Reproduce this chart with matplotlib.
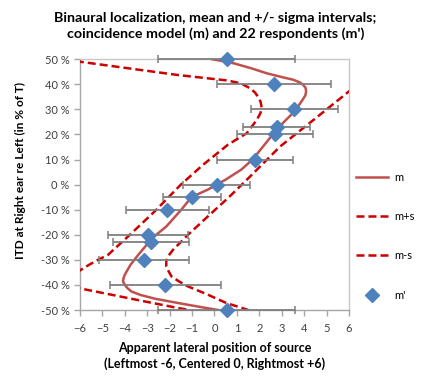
import numpy as np
import matplotlib.pyplot as plt
from matplotlib.ticker import FuncFormatter

# ============================================================
# Data
# ============================================================
# model mean m: lateral position vs ITD (%)
m_pos = [-0.1, 0.4, 0.85, 1.6, 2.33, 2.95, 3.52, 3.8, 3.96, 4.07, 4.09, 4.05,
         3.93, 3.72, 3.5, 3.1, 2.6, 2.15, 1.7, 1.2, 0.5, -0.3, -1.03, -1.48,
         -2.15, -2.6, -2.96, -3.4, -3.75, -4.0, -4.06, -4.08, -4.0, -3.88,
         -3.71, -3.3, -2.65, -1.63, -0.75, 0.16]
m_itd = [50, 49.2, 48.4, 46.5, 44.4, 43, 41.8, 40.8, 39.8, 38.5, 37, 35.5,
         33.8, 31, 28.5, 25, 20, 15, 10, 6, 2, -2, -5, -10,
         -16.7, -20, -23.3, -28, -32, -35.9, -37.3, -38.6, -40, -41.3,
         -42.6, -44, -45.5, -47.2, -48.6, -50]

# m+s (dashed), leaves the chart on the right above ~37 %
mps_pos = [7.0, 5.98, 4.42, 2.93, 1.44, 0.6, -0.14, -1.18, -1.85, -2.07,
           -2.15, -2.15, -2.05, -1.92, -1.6, -1.18, -0.64, -0.29, 0.1, 0.53,
           1.51]
mps_itd = [44, 37, 25.8, 15.2, 1.9, -5.4, -11.4, -20, -26, -28.6,
           -30.5, -32.6, -34.5, -36.6, -38.5, -40.6, -42.6, -43.9, -45.5, -47.2,
           -50]

# m-s (dashed), dips off the chart on the left between -34 % and -41 %
mms_pos = [-6.15, -6.0, -3.86, -1.63, 0.6, 1.2, 1.59, 1.8, 1.95, 2.06, 2.11,
           2.05, 1.89, 1.44, 0.6, -0.51, -1.5, -2.67, -3.86, -4.75, -5.2,
           -5.6, -6.0, -6.35, -6.45, -6.4, -6.25, -6.1, -4.6, -3.1, -1.63,
           -1.1]
mms_itd = [50, 49, 46.4, 43.7, 41.5, 40.3, 38.4, 36.8, 35, 33, 30.5,
           28.5, 25.8, 20.5, 15.9, 7.9, 0, -10.7, -20.7, -28, -30,
           -32, -34.2, -36, -37.5, -39, -40.3, -41.2, -43.9, -46.6, -49.2,
           -50]

# respondents m' (mean and sigma)
resp_itd = [50, 40, 30, 23, 20, 10, 0, -5, -10, -20, -23, -30, -40, -50]
resp_pos = [0.55, 2.65, 3.57, 2.78, 2.7, 1.8, 0.1, -0.99, -2.1, -2.97, -2.83,
            -3.15, -2.2, 0.55]
resp_sigma = [3.05, 2.55, 1.95, 1.5, 1.7, 1.7, 1.5, 1.3, 1.84, 1.8, 1.7,
              2.02, 2.47, 3.05]

x_ticks = list(range(-6, 7))
y_ticks = list(range(-50, 51, 10))

# ============================================================
# Plot
# ============================================================
plt.rcParams["font.family"] = ["Lato", "DejaVu Sans"]

fig = plt.figure(figsize=(4.33, 3.76), dpi=100)
ax = fig.add_axes([0.1848, 0.1755, 0.621, 0.667])

red_solid = "#C0504D"
red_dash = "#CC0000"
blue = "#4F81BD"
grey = "#7F7F7F"
dash = (0, (3.2, 1.6))

ax.plot(m_pos, m_itd, color=red_solid, linewidth=1.8, label="m", zorder=3)
ax.plot(mps_pos, mps_itd, color=red_dash, linewidth=1.8, linestyle=dash,
        label="m+s", zorder=3)
ax.plot(mms_pos, mms_itd, color=red_dash, linewidth=1.8, linestyle=dash,
        label="m-s", zorder=3)
ax.errorbar(resp_pos, resp_itd, xerr=resp_sigma, fmt="none", ecolor=grey,
            elinewidth=1.3, capsize=3, capthick=1.1, zorder=4, clip_on=False)
ax.plot(resp_pos, resp_itd, linestyle="none", marker="D", markersize=7.5,
        color=blue, label="m'", zorder=5, clip_on=False)

ax.set_xlim(-6, 6)
ax.set_ylim(-50, 50)
ax.set_xticks(x_ticks)
ax.set_yticks(y_ticks)
ax.yaxis.set_major_formatter(FuncFormatter(lambda v, p: f"{int(v)} %"))

for side in ["top", "right"]:
    ax.spines[side].set_color("#C8C8C8")
for side in ["left", "bottom"]:
    ax.spines[side].set_color("#A6A6A6")
for sp in ax.spines.values():
    sp.set_linewidth(1.0)
ax.tick_params(axis="both", colors="#A6A6A6", length=4, width=1,
               labelcolor="#404040", labelsize=8)
ax.tick_params(axis="x", pad=5)

ax.set_xlabel("Apparent lateral position of source\n(Leftmost -6, Centered 0, Rightmost +6)",
              fontsize=9, fontweight="bold", labelpad=6, linespacing=1.35)
ax.set_ylabel("ITD at Right ear re Left (in % of T)", fontsize=8.6,
              fontweight="bold")
ax.yaxis.set_label_coords(-0.2, 0.555)
fig.suptitle("Binaural localization, mean and +/- sigma intervals;\n"
             "coincidence model (m) and 22 respondents (m')",
             fontsize=10.3, fontweight="bold", y=0.967, x=0.497, linespacing=1.3)

ax.legend(loc="upper left", bbox_to_anchor=(1.01, 0.57), frameon=False,
          fontsize=8, handlelength=2.9, labelspacing=2.55, handletextpad=0.5,
          borderaxespad=0)

fig.savefig("out.png", dpi=100)
